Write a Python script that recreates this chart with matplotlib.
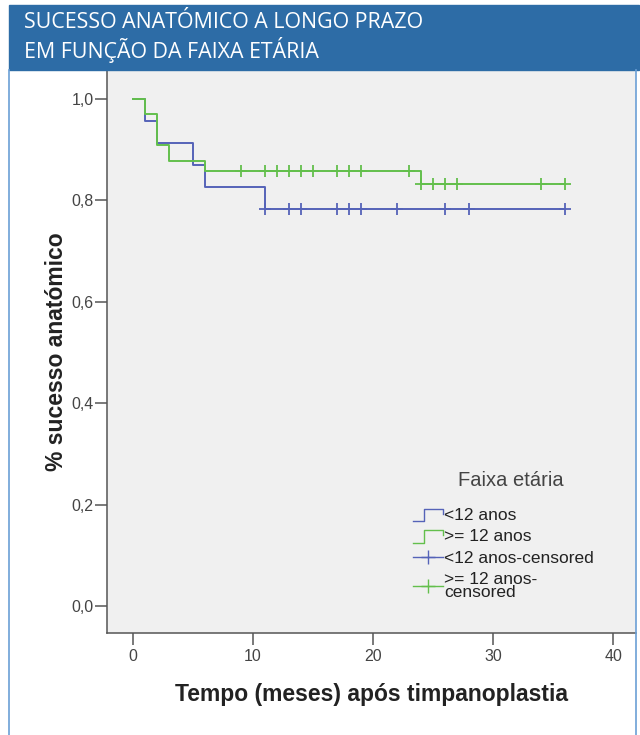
import matplotlib
matplotlib.use('Agg')
import matplotlib.pyplot as plt
from matplotlib.lines import Line2D
from matplotlib.legend_handler import HandlerBase
from matplotlib.patches import Rectangle

# Dados (Kaplan-Meier)
grupos = ['<12 anos', '>= 12 anos']
rotulos_cens = ['<12 anos-censored', '>= 12 anos-\ncensored']

t_menor = [0, 1, 2, 5, 6, 11, 36]
s_menor = [1.0, 0.957, 0.913, 0.870, 0.826, 0.783, 0.783]
cens_menor = [11, 13, 14, 17, 18, 19, 22, 26, 28, 36]

t_maior = [0, 1, 2, 3, 6, 24, 36]
s_maior = [1.0, 0.971, 0.909, 0.878, 0.858, 0.832, 0.832]
cens_maior = [9, 11, 12, 13, 14, 15, 17, 18, 19, 23, 24, 25, 26, 27, 34, 36]

x_ticks = [0, 10, 20, 30, 40]
y_ticks = [0.0, 0.2, 0.4, 0.6, 0.8, 1.0]
y_tick_labels = ['0,0', '0,2', '0,4', '0,6', '0,8', '1,0']

titulo = ['SUCESSO ANATÓMICO A LONGO PRAZO', 'EM FUNÇÃO DA FAIXA ETÁRIA']

cor_azul = '#5563b8'
cor_verde = '#63bf4c'
cor_header = '#2d6ca6'
cor_moldura = '#6b9fd6'


def valor_em(t, s, c):
    # sobrevida no instante c (função em degrau)
    v = s[0]
    for ti, si in zip(t, s):
        if ti <= c:
            v = si
    return v


class HandlerDegrau(HandlerBase):
    def create_artists(self, legend, orig, xd, yd, w, h, fs, trans):
        xs = [-xd, -xd + 0.38 * w, -xd + 0.38 * w, -xd + w, -xd + w]
        ys = [-yd - 0.1 * h, -yd - 0.1 * h, -yd + 0.9 * h, -yd + 0.9 * h, -yd + 0.5 * h]
        linha = Line2D(xs, ys, color=orig.get_color(), lw=1.0, transform=trans)
        return [linha]


plt.rcParams['font.family'] = ['Liberation Sans', 'DejaVu Sans']

fig = plt.figure(figsize=(6.4, 7.35), dpi=100)
ax = fig.add_axes([107 / 640, 102 / 735, 529 / 640, 563 / 735])
ax.set_facecolor('#f0f0f0')

# Curvas
ax.step(t_menor, s_menor, where='post', color=cor_azul, lw=1.4)
ax.step(t_maior, s_maior, where='post', color=cor_verde, lw=1.4)

# Censuras
ax.plot(cens_menor, [valor_em(t_menor, s_menor, c) for c in cens_menor], '+',
        color=cor_azul, ms=8, mew=1.3)
ax.plot(cens_maior, [valor_em(t_maior, s_maior, c) for c in cens_maior], '+',
        color=cor_verde, ms=8, mew=1.3)

ax.set_xlim(-2.17, 41.9)
ax.set_ylim(-0.053, 1.057)
ax.set_xticks(x_ticks)
ax.set_yticks(y_ticks)
ax.set_yticklabels(y_tick_labels)

for lado in ['top', 'right']:
    ax.spines[lado].set_visible(False)
for lado in ['left', 'bottom']:
    ax.spines[lado].set_color('#555555')
    ax.spines[lado].set_linewidth(1.1)

ax.tick_params(axis='both', length=8.5, width=1.1, color='#555555',
               labelsize=11.5, labelcolor='#444444')
ax.tick_params(axis='y', pad=1)
ax.tick_params(axis='x', pad=3)

ax.set_xlabel('Tempo (meses) após timpanoplastia', fontsize=16.5, fontweight='bold', color='#222222')
ax.set_ylabel('% sucesso anatómico', fontsize=16.5, fontweight='bold', color='#222222')
ax.xaxis.set_label_coords(0.5, -0.088)
ax.yaxis.set_label_coords(-0.074, 0.5)

# Legenda
h1 = Line2D([], [], color=cor_azul)
h2 = Line2D([], [], color=cor_verde)
h3 = Line2D([], [], color=cor_azul, marker='+', ms=10, mew=1.0, lw=1.0)
h4 = Line2D([], [], color=cor_verde, marker='+', ms=10, mew=1.0, lw=1.0)
leg = ax.legend([h1, h2, h3, h4], grupos + rotulos_cens,
                handler_map={h1: HandlerDegrau(), h2: HandlerDegrau()},
                fontsize=12.5, frameon=False, loc='upper left',
                bbox_to_anchor=(413 / 640, (735 - 508) / 735),
                bbox_transform=fig.transFigure, borderpad=0, borderaxespad=0,
                handlelength=1.7, handletextpad=0.1, labelspacing=0.35)
for txt in leg.get_texts():
    txt.set_color('#222222')
    txt.set_linespacing(0.9)
fig.text(511 / 640, 1 - 480 / 735, 'Faixa etária', fontsize=14.5, color='#444444',
         ha='center', va='center')

# Cabeçalho azul e moldura
fig.patches.append(Rectangle((9 / 640, 1 - 70 / 735), 630 / 640, 65 / 735,
                             transform=fig.transFigure, color=cor_header, zorder=0))
fig.lines.append(Line2D([9 / 640, 9 / 640], [0, 1 - 70 / 735], transform=fig.transFigure,
                        color=cor_moldura, lw=1.2))
fig.lines.append(Line2D([636 / 640, 636 / 640], [0, 1 - 70 / 735], transform=fig.transFigure,
                        color=cor_moldura, lw=1.2))
fig.text(24 / 640, 1 - 22 / 735, titulo[0], color='white', fontsize=15.4,
         family='Open Sans', va='center', ha='left')
fig.text(24 / 640, 1 - 50 / 735, titulo[1], color='white', fontsize=15.4,
         family='Open Sans', va='center', ha='left')

fig.savefig('out.png', dpi=100)
